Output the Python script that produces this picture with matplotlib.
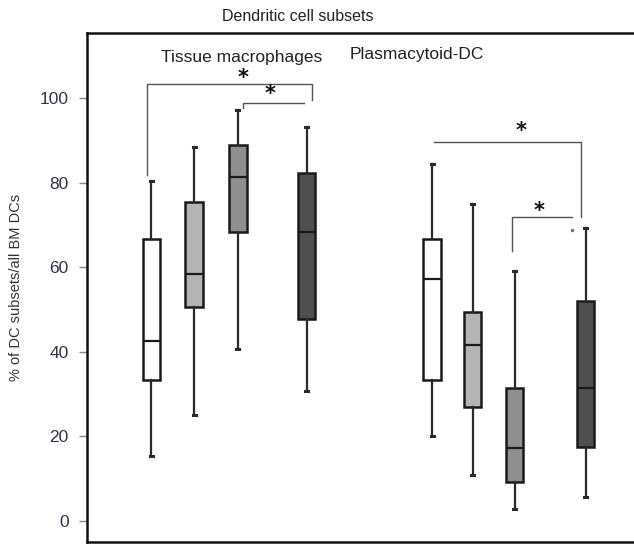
import matplotlib.pyplot as plt

# box statistics (% of DC subsets / all BM DCs)
groups = ['TM-1', 'TM-2', 'TM-3', 'TM-4', 'pDC-1', 'pDC-2', 'pDC-3', 'pDC-4']
whislo = [15.2, 25.0, 40.6, 30.6, 20.1, 10.8, 2.7, 5.5]
q1 = [33.2, 50.5, 68.3, 47.8, 33.3, 27.0, 9.2, 17.5]
med = [42.5, 58.3, 81.4, 68.3, 57.3, 41.7, 17.3, 31.4]
q3 = [66.6, 75.4, 89.0, 82.2, 66.6, 49.4, 31.4, 52.1]
whishi = [80.3, 88.4, 97.3, 93.2, 84.5, 74.9, 59.2, 69.4]
fills = ['white', '#b4b4b4', '#8f8f8f', '#4f4f4f'] * 2

positions = [1, 2, 3.02, 4.63, 7.56, 8.51, 9.49, 11.15]

# significance brackets: (x left, y left end, x right, y right end, bar y, star x, star y)
brackets = [
    (0.9, 81.8, 4.76, 99.5, 103.3, 3.15, 104.8),
    (3.15, 97.6, 4.56, 98.8, 98.8, 3.78, 101.0),
    (7.6, 89.6, 11.05, 71.9, 89.6, 9.65, 92.2),
    (9.42, 63.8, 10.84, 71.9, 71.9, 10.07, 73.3),
]

font = ['Liberation Sans', 'DejaVu Sans']

fig = plt.figure(figsize=(6.34, 5.44), dpi=100)
ax = fig.add_axes([0.137, 0.004, 0.9, 0.935])

stats = []
for i in range(len(groups)):
    stats.append({'label': groups[i], 'whislo': whislo[i], 'q1': q1[i], 'med': med[i],
                  'q3': q3[i], 'whishi': whishi[i], 'fliers': []})

bp = ax.bxp(stats, positions=positions, widths=0.41, patch_artist=True, showfliers=False,
            boxprops=dict(edgecolor='#1a1a1a', linewidth=1.8),
            medianprops=dict(color='#1a1a1a', linewidth=1.6),
            whiskerprops=dict(color='#2a2a2a', linewidth=1.6),
            capprops=dict(color='#2a2a2a', linewidth=2.2), capwidths=0.07)
for patch, c in zip(bp['boxes'], fills):
    patch.set_facecolor(c)

for xl, yl, xr, yr, yb, sx, sy in brackets:
    ax.plot([xl, xl, xr, xr], [yl, yb, yb, yr], color='#555555', lw=1.0)
    ax.text(sx, sy, '*', ha='center', va='center', fontsize=15, fontweight='bold', color='#111111')

ax.plot([10.84], [68.8], 'o', color='#777777', markersize=1.5)

ax.set_xlim(-0.51, 12.83)
ax.set_ylim(-5, 115.4)
ax.set_xticks([])
ax.set_yticks([0, 20, 40, 60, 80, 100])
ax.tick_params(axis='y', length=6, width=1, color='#888888', labelcolor='#2f3447', labelsize=12.5, pad=7)
for lab in ax.get_yticklabels():
    lab.set_family(font)

ax.spines['right'].set_visible(False)
for s in ['left', 'top', 'bottom']:
    ax.spines[s].set_linewidth(1.8)
    ax.spines[s].set_color('#111111')

ax.set_ylabel('% of DC subsets/all BM DCs', fontsize=10.5, color='#333333',
              family=font, labelpad=12)

fig.text(0.47, 0.969, 'Dendritic cell subsets', ha='center', va='center', fontsize=11.5,
         family=font, color='#222222')
ax.text(3.1, 109.7, 'Tissue macrophages', ha='center', va='center', fontsize=12.5,
        family=font, color='#222222')
ax.text(7.2, 110.4, 'Plasmacytoid-DC', ha='center', va='center', fontsize=12.5,
        family=font, color='#222222')

plt.savefig('out.png', dpi=100)
